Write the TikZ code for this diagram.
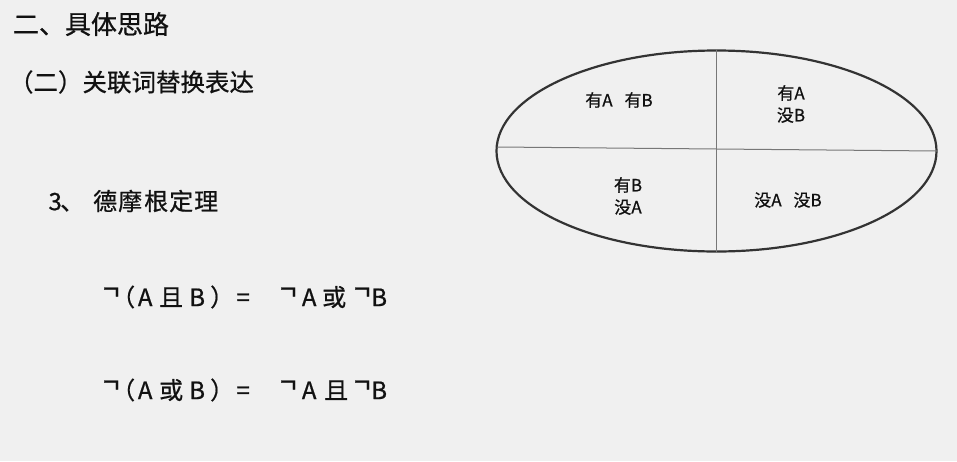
\documentclass[tikz,border=0pt]{standalone}
\usepackage{fontspec}
\usepackage{graphicx}
\usetikzlibrary{shapes.geometric}
\setmainfont{Noto Sans CJK SC}[FakeBold=0.7]
\definecolor{bg}{HTML}{F0F0F0}
\definecolor{ink}{HTML}{111111}
\definecolor{rim}{HTML}{333333}
\definecolor{divider}{HTML}{777777}
\newlength\gorig
\newcommand\gat[2]{\rlap{\hspace*{\dimexpr#1pt-\gorig\relax}\makebox[0pt]{#2}}}
\newcommand\mynot{\raisebox{6pt}{\scalebox{1.2}[1.3]{¬}}}
\begin{document}
\begin{tikzpicture}[x=1pt,y=-1pt,
  txt/.style={inner sep=0pt,outer sep=0pt,text=ink,font=\fontsize{#1}{#1}\selectfont},
  txt/.default=22,
  quad/.style={inner sep=0pt,text=ink,align=center,font=\fontsize{17}{22}\selectfont},
  formula/.style={inner sep=0pt,anchor=west,text=ink,font=\fontsize{24}{24}\selectfont}]
\fill[bg] (0,0) rectangle (957,461);
\useasboundingbox (0,0) rectangle (957,461);
\node[txt=26,anchor=west] (title) at (13,24) {二、具体思路};
\node[txt=24.5,anchor=west] (sub) at (9,82) {（二）关联词替换表达};
\node[formula] (thm) at (40,201) {\setlength\gorig{40pt}\gat{55}{3}\gat{72}{、}\gat{105}{德}\gat{130}{摩}\gat{156}{根}\gat{181}{定}\gat{206}{理}\hspace*{180pt}};
\node[formula] (f1) at (100,297) {\setlength\gorig{100pt}\gat{111}{\mynot}\gat{123}{（}\gat{145}{A}\gat{171}{且}\gat{197}{B}\gat{222}{）}\gat{243}{=}\gat{288}{\mynot}\gat{309}{A}\gat{334}{或}\gat{362}{\mynot}\gat{379}{B}\hspace*{290pt}};
\node[formula] (f2) at (100,390) {\setlength\gorig{100pt}\gat{111}{\mynot}\gat{123}{（}\gat{145}{A}\gat{171}{或}\gat{197}{B}\gat{222}{）}\gat{243}{=}\gat{288}{\mynot}\gat{309}{A}\gat{336}{且}\gat{362}{\mynot}\gat{379}{B}\hspace*{290pt}};
\node[draw=rim,line width=2.2pt,ellipse,minimum width=440pt,minimum height=201pt,inner sep=0pt] (E) at (716.5,151) {};
\draw[divider,line width=1pt] (E.north) -- (E.south);
\draw[divider,line width=1pt] (497,147) -- (937,151);
\node[quad] (q1) at (619,100) {有A\hspace{0.7em}有B};
\node[quad] (q2) at (791,104) {有A\\没B};
\node[quad] (q3) at (628,196) {有B\\没A};
\node[quad] (q4) at (788,200) {没A\hspace{0.7em}没B};
\end{tikzpicture}
\end{document}
